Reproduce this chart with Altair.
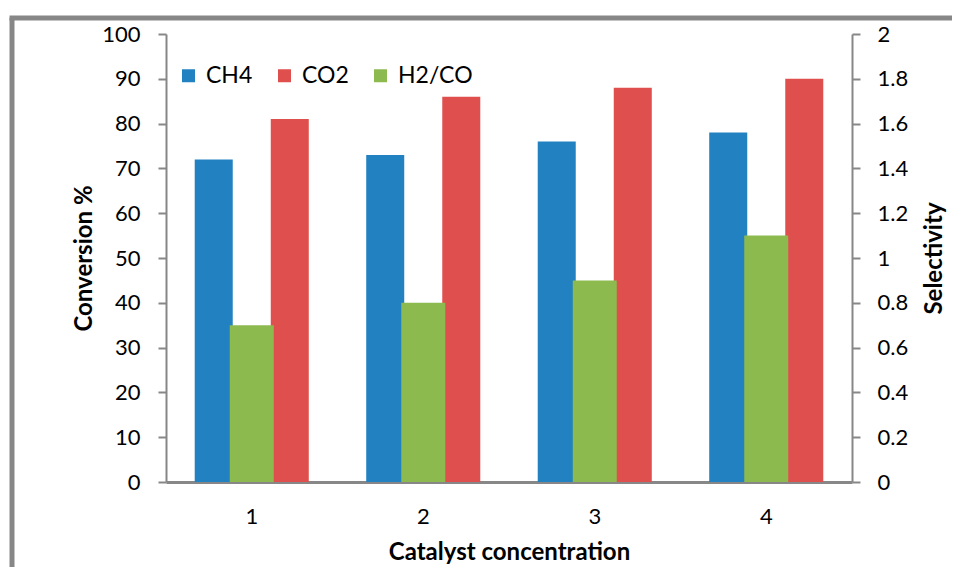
import altair as alt
import pandas as pd

categories = ["1", "2", "3", "4"]
ch4 = [72, 73, 76, 78]
co2 = [81, 86, 88, 90]
h2co = [0.7, 0.8, 0.9, 1.1]

series_order = ["CH4", "CO2", "H2/CO"]
colors = ["#2181C1", "#DE4F4D", "#8DBA4F"]

conv = pd.DataFrame(
    [{"cat": c, "series": "CH4", "value": v} for c, v in zip(categories, ch4)]
    + [{"cat": c, "series": "CO2", "value": v} for c, v in zip(categories, co2)]
)
sel = pd.DataFrame({"cat": categories, "series": "H2/CO", "value": h2co})

FONT = "Lato"
GRAY = "#878787"

xscale = alt.Scale(domain=categories, paddingInner=0.335, paddingOuter=0.1675)
color = alt.Color(
    "series:N",
    scale=alt.Scale(domain=series_order, range=colors),
    legend=alt.Legend(
        title=None,
        orient="none",
        legendX=11,
        legendY=30,
        direction="horizontal",
        symbolType="square",
        symbolSize=169,
        symbolStrokeWidth=0,
        labelFontSize=23,
        labelFont=FONT,
        labelColor="#000000",
        labelOffset=6,
        columnPadding=20,
    ),
)

xaxis = alt.Axis(
    title="Catalyst concentration",
    labelAngle=0,
    ticks=False,
    labelPadding=24,
    labelFontSize=22,
    labelFont=FONT,
    labelColor="#000000",
    titleFont=FONT,
    titleFontSize=24,
    titleFontWeight="bold",
    titleColor="#000000",
    titlePadding=13,
    domainColor=GRAY,
    domainWidth=3,
)

bars = alt.Chart(conv).mark_bar().encode(
    x=alt.X("cat:N", scale=xscale, axis=xaxis, sort=categories),
    xOffset=alt.XOffset("series:N", scale=alt.Scale(domain=["CH4", "H2/CO", "CO2"], paddingInner=0, paddingOuter=0)),
    y=alt.Y(
        "value:Q",
        scale=alt.Scale(domain=[0, 100]),
        axis=alt.Axis(
            title="Conversion %",
            values=list(range(0, 101, 10)),
            orient="left",
            grid=False,
            tickSize=8,
            tickWidth=2,
            tickColor=GRAY,
            domainColor=GRAY,
            domainWidth=2,
            labelPadding=18,
            labelFontSize=22,
            labelFont=FONT,
            labelColor="#000000",
            titleFont=FONT,
            titleFontSize=24,
            titleFontWeight="bold",
            titleColor="#000000",
            titlePadding=5,
        ),
    ),
    color=color,
)

green = alt.Chart(sel).mark_bar(width=44).encode(
    x=alt.X("cat:N", scale=xscale, axis=xaxis, sort=categories),
    y=alt.Y(
        "value:Q",
        scale=alt.Scale(domain=[0, 2]),
        axis=alt.Axis(
            title="Selectivity",
            values=[0, 0.2, 0.4, 0.6, 0.8, 1, 1.2, 1.4, 1.6, 1.8, 2],
            format="~g",
            orient="right",
            grid=False,
            tickSize=8,
            tickWidth=2,
            tickColor=GRAY,
            domainColor=GRAY,
            domainWidth=2,
            labelPadding=17,
            labelFontSize=22,
            labelFont=FONT,
            labelColor="#000000",
            titleFont=FONT,
            titleFontSize=24,
            titleFontWeight="bold",
            titleColor="#000000",
            titleAngle=270,
            titleBaseline="top",
            titlePadding=15,
        ),
    ),
    color=color,
)

frame_df = pd.DataFrame({"k": [0]})
frame_left = alt.Chart(frame_df).mark_rule(color=GRAY, strokeWidth=5).encode(
    x=alt.value(-154), y=alt.value(-16), y2=alt.value(560)
)
frame_top = alt.Chart(frame_df).mark_rule(color=GRAY, strokeWidth=5).encode(
    x=alt.value(-156.5), x2=alt.value(800), y=alt.value(-16)
)

chart = (
    alt.layer(bars, green, frame_left, frame_top)
    .resolve_scale(y="independent")
    .properties(
        width=686,
        height=448,
        autosize=alt.AutoSizeParams(type="none"),
        padding={"left": 158, "top": 26, "right": 100, "bottom": 85},
        background="#ffffff",
    )
    .configure_view(stroke=None)
)

chart.save("out.html", embed_options={"renderer": "svg", "actions": False})
